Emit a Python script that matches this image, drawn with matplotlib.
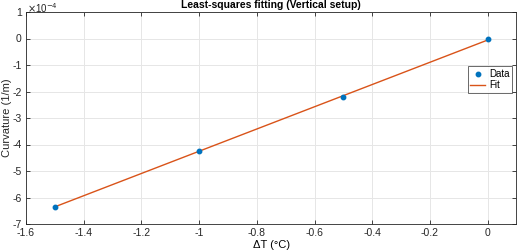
import numpy as np
import matplotlib
matplotlib.use("Agg")
import matplotlib.pyplot as plt

dT = [-1.5, -1.0, -0.5, 0.0]
curv = [-6.35, -4.23, -2.21, -0.03]  # x 1e-4
xticks = [-1.6, -1.4, -1.2, -1.0, -0.8, -0.6, -0.4, -0.2, 0.0]
xticklabels = ["-1.6", "-1.4", "-1.2", "-1", "-0.8", "-0.6", "-0.4", "-0.2", "0"]
yticks = [-7, -6, -5, -4, -3, -2, -1, 0, 1]
yticklabels = ["-7", "-6", "-5", "-4", "-3", "-2", "-1", "0", "1"]

plt.rcParams['font.family'] = ['Liberation Sans', 'DejaVu Sans']
fig = plt.figure(figsize=(5.17, 2.5), dpi=100)
ax = fig.add_axes([26/517, 1-224/250, (517-26)/517 - 0.001, (224-12)/250])

p = np.polyfit(dT, curv, 1)
xf = np.linspace(min(dT), max(dT), 50)
ax.plot(dT, curv, 'o', color='#0072BD', ms=3.2, label='Data', zorder=3)
ax.plot(xf, np.polyval(p, xf), '-', color='#D95319', lw=1.0, label='Fit', zorder=2)

ax.set_xlim(-1.6, 0.1)
ax.set_ylim(-7, 1)
ax.set_xticks(xticks)
ax.set_xticklabels(xticklabels)
ax.set_yticks(yticks)
ax.set_yticklabels(yticklabels)
ax.grid(True, color='#e6e6e6', lw=0.7)
ax.set_axisbelow(True)
for s in ax.spines.values():
    s.set_color('#262626')
    s.set_linewidth(0.6)
ax.tick_params(direction='in', length=3, width=0.6, colors='#262626', labelsize=7.5,
               top=True, right=True, pad=3)
ax.set_title('Least-squares fitting (Vertical setup)', fontsize=7.5, fontweight='bold', pad=3)
ax.set_xlabel('ΔT (°C)', fontsize=8, labelpad=1)
fig.text(7/517, 1-118/250, 'Curvature (1/m)', rotation=90, fontsize=8,
         ha='center', va='center', color='#262626')
fig.text(27/517, 1-1/250, r'$\times$10$^{-4}$', fontsize=7,
         ha='left', va='top', color='#262626')
leg = ax.legend(loc='upper left', bbox_to_anchor=((468-26)/491, 1-(66-12)/212),
                fontsize=7, frameon=True, fancybox=False, borderpad=0.3,
                handlelength=1.5, handletextpad=0.4, labelspacing=0.15, borderaxespad=0)
leg.get_frame().set_edgecolor('#262626')
leg.get_frame().set_linewidth(0.6)
fig.savefig('out.png', dpi=100)
